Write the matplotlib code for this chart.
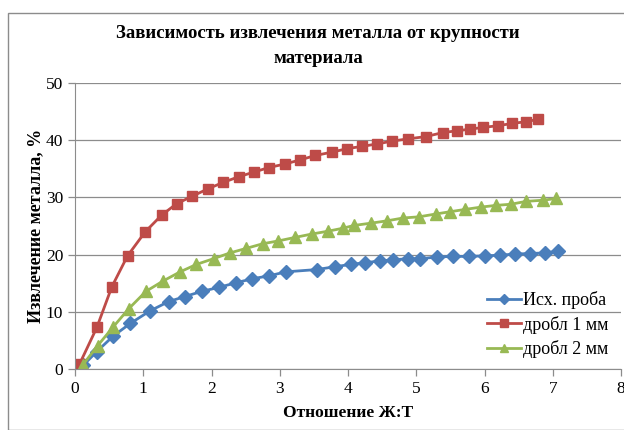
import matplotlib
matplotlib.use("Agg")
import matplotlib.pyplot as plt
from matplotlib.patches import Rectangle

plt.rcParams['font.family'] = ['Liberation Serif', 'DejaVu Serif']

# Исх. проба
x_src = [0.12, 0.32, 0.56, 0.81, 1.10, 1.37, 1.61, 1.86, 2.11, 2.36, 2.60, 2.84, 3.09,
         3.54, 3.81, 4.04, 4.25, 4.47, 4.66, 4.88, 5.06, 5.31, 5.54, 5.78, 6.00, 6.22,
         6.44, 6.66, 6.88, 7.08]
y_src = [0.7, 3.1, 5.8, 8.0, 10.2, 11.8, 12.7, 13.6, 14.3, 15.1, 15.8, 16.3, 17.0,
         17.4, 17.9, 18.3, 18.6, 18.9, 19.1, 19.3, 19.3, 19.6, 19.7, 19.7, 19.8, 19.9,
         20.1, 20.2, 20.3, 20.6]

# дробл 1 мм
x_1mm = [0.07, 0.32, 0.54, 0.77, 1.03, 1.27, 1.49, 1.72, 1.95, 2.17, 2.40, 2.62, 2.84,
         3.07, 3.29, 3.52, 3.77, 3.99, 4.21, 4.42, 4.64, 4.88, 5.14, 5.39, 5.59, 5.79,
         5.98, 6.20, 6.41, 6.61, 6.78]
y_1mm = [1.0, 7.3, 14.4, 19.8, 24.0, 26.9, 28.9, 30.2, 31.5, 32.6, 33.6, 34.4, 35.2,
         35.8, 36.5, 37.3, 37.9, 38.5, 38.9, 39.3, 39.8, 40.2, 40.6, 41.3, 41.6, 41.9,
         42.2, 42.5, 42.9, 43.2, 43.6]

# дробл 2 мм
x_2mm = [0.11, 0.33, 0.56, 0.79, 1.04, 1.29, 1.54, 1.78, 2.03, 2.27, 2.51, 2.75, 2.98,
         3.22, 3.47, 3.71, 3.92, 4.09, 4.34, 4.57, 4.81, 5.04, 5.29, 5.50, 5.72, 5.95,
         6.17, 6.39, 6.61, 6.86, 7.05]
y_2mm = [0.7, 4.1, 7.4, 10.6, 13.6, 15.4, 17.0, 18.3, 19.3, 20.3, 21.1, 21.9, 22.4,
         23.0, 23.6, 24.1, 24.6, 25.1, 25.5, 25.9, 26.4, 26.6, 27.1, 27.5, 27.9, 28.3,
         28.6, 28.8, 29.3, 29.5, 29.8]

W, H = 624, 430
fig = plt.figure(figsize=(W / 100, H / 100), dpi=100)
ax = fig.add_axes([75 / W, 1 - 369.3 / H, (621 - 75) / W, (369.3 - 82.7) / H])

# outer chart frame
fig.patches.append(Rectangle((8 / W, 0), 1.2, 1 - 13 / H, transform=fig.transFigure,
                             fill=False, edgecolor='#8c8c8c', linewidth=1))

ax.plot(x_src, y_src, color='#4A7EBB', marker='D', markersize=6.8, linewidth=2,
        label='Исх. проба')
ax.plot(x_1mm, y_1mm, color='#BE4B48', marker='s', markersize=7.8, linewidth=2,
        label='дробл 1 мм')
ax.plot(x_2mm, y_2mm, color='#98B954', marker='^', markersize=8.3, linewidth=2,
        label='дробл 2 мм')

ax.set_xlim(0, 8)
ax.set_ylim(0, 50)
ax.set_xticks(range(0, 9))
ax.set_yticks(range(0, 51, 10))
ax.grid(axis='y', color='#8c8c8c', linewidth=0.9)
ax.set_axisbelow(True)
for s in ['top', 'right']:
    ax.spines[s].set_visible(False)
for s in ['left', 'bottom']:
    ax.spines[s].set_color('#8c8c8c')
ax.tick_params(colors='#8c8c8c', labelcolor='black', labelsize=12.5, length=5, width=0.9)

ax.set_xlabel('Отношение Ж:Т', fontsize=12.5, fontweight='bold', labelpad=6)
ax.set_ylabel('Извлечение металла, %', fontsize=13, fontweight='bold', labelpad=1)
fig.text(0.51, 1 - 46 / H, 'Зависимость извлечения металла от крупности\nматериала',
         ha='center', va='center', fontsize=13.5, fontweight='bold', linespacing=1.6)

ax.legend(loc='lower right', bbox_to_anchor=(1.0, -0.005), frameon=False, fontsize=13,
          handlelength=1.9, handletextpad=0.1, labelspacing=0.36, borderpad=0.2,
          markerscale=0.75)

fig.savefig('out.png', dpi=100)
plt.close(fig)
